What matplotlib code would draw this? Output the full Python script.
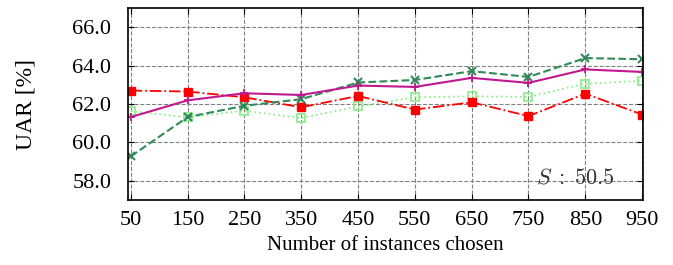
import matplotlib.pyplot as plt
import numpy as np

plt.rcParams['font.family'] = ['Liberation Serif', 'DejaVu Serif']
plt.rcParams['mathtext.fontset'] = 'cm'

instances = [50, 150, 250, 350, 450, 550, 650, 750, 850, 950]
red_vals = [62.70, 62.65, 62.35, 61.83, 62.42, 61.71, 62.09, 61.37, 62.54, 61.45]
magenta_vals = [61.32, 62.19, 62.56, 62.47, 62.96, 62.89, 63.36, 63.10, 63.80, 63.67]
dkgreen_vals = [59.27, 61.32, 61.91, 62.25, 63.12, 63.25, 63.71, 63.41, 64.39, 64.33]
ltgreen_vals = [61.63, 61.31, 61.65, 61.27, 61.88, 62.35, 62.40, 62.37, 63.06, 63.20]
yticks = [58.0, 60.0, 62.0, 64.0, 66.0]

fig = plt.figure(figsize=(6.73, 2.65), dpi=100)
ax = fig.add_axes([0.19, 0.245, 0.765, 0.725])

ax.plot(instances, ltgreen_vals, ':', color='#90ee90', lw=1.3, marker='s', ms=6,
        mfc='none', mec='#90ee90', mew=1.3)
ax.plot(instances, red_vals, '-.', color='#ff0000', lw=1.3, marker='s', ms=6)
ax.plot(instances, dkgreen_vals, '--', color='#2e8b57', lw=1.5, marker='x', ms=6, mew=1.5)
ax.plot(instances, magenta_vals, '-', color='#c2188f', lw=1.5, marker='+', ms=6, mew=1.3)

ax.set_xlim(45, 951)
ax.set_ylim(57, 67)
ax.set_xticks(instances)
ax.set_yticks(yticks)
ax.set_yticklabels(['%.1f' % v for v in yticks])
ax.grid(True, ls='--', color='#808080', lw=0.8)
ax.tick_params(direction='in', top=True, right=True, labelsize=16, length=4)
ax.tick_params(axis='y', pad=12)
ax.tick_params(axis='x', pad=8)
ax.set_xlabel('Number of instances chosen', fontsize=15, labelpad=4)
ax.set_ylabel('UAR [%]', fontsize=17, labelpad=26)
ax.text(0.946, 0.06, r'$S\;:\;50.5$', transform=ax.transAxes, ha='right', va='bottom',
        fontsize=16, color='#333333')
for s in ax.spines.values():
    s.set_linewidth(1.2)

fig.savefig('out.png', dpi=100)
